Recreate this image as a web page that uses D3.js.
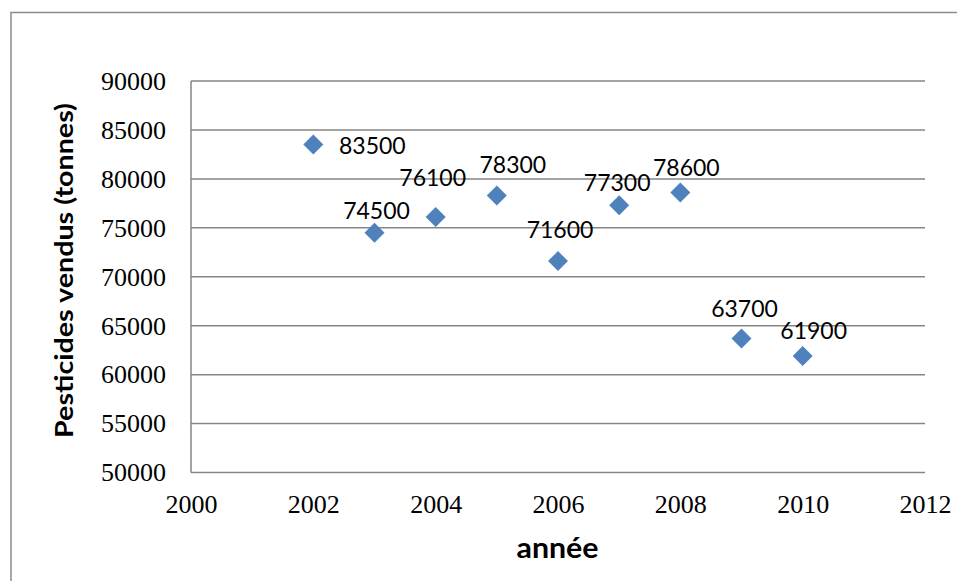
<!DOCTYPE html>
<html>
<head>
<meta charset="utf-8">
<script src="https://cdn.jsdelivr.net/npm/d3@7"></script>
<style>
  html, body { margin: 0; padding: 0; background: #ffffff; }
  svg { display: block; }
</style>
</head>
<body>
<svg id="chart" width="957" height="581"></svg>
<script>
// ---- data ----
const years = [2002, 2003, 2004, 2005, 2006, 2007, 2008, 2009, 2010];
const tonnes = [83500, 74500, 76100, 78300, 71600, 77300, 78600, 63700, 61900];
const xTicks = [2000, 2002, 2004, 2006, 2008, 2010, 2012];
const yTicks = [50000, 55000, 60000, 65000, 70000, 75000, 80000, 85000, 90000];
const yTitle = "Pesticides vendus (tonnes)";
const xTitle = "année";
// label placement (offset of label centre from marker, in px) – styling, not data
const labelDx = [59, 2, -3, 16, 2, -2, 6, 3, 11];
const labelDy = [1, -22, -39, -31, -31, -23, -25, -30, -25];

const svg = d3.select("#chart");
const plot = { left: 191, right: 925, top: 81, bottom: 472.5 };
const gridColor = "#868686";

// outer frame
svg.append("rect")
  .attr("x", 11).attr("y", 12.5)
  .attr("width", 1000).attr("height", 700)
  .attr("fill", "none").attr("stroke", "#8c8c8c").attr("stroke-width", 1.5);

const x = d3.scaleLinear().domain([2000, 2012]).range([plot.left, plot.right]);
const y = d3.scaleLinear().domain([50000, 90000]).range([plot.bottom, plot.top]);

// horizontal gridlines
svg.append("g").selectAll("line").data(yTicks).join("line")
  .attr("x1", plot.left).attr("x2", plot.right)
  .attr("y1", d => y(d)).attr("y2", d => y(d))
  .attr("stroke", gridColor).attr("stroke-width", 1.5);

// y axis line
svg.append("line")
  .attr("x1", plot.left).attr("x2", plot.left)
  .attr("y1", plot.top).attr("y2", plot.bottom)
  .attr("stroke", gridColor).attr("stroke-width", 1.5);

// y axis tick labels
const yAxis = d3.axisLeft(y).tickValues(yTicks).tickSize(0).tickPadding(25)
  .tickFormat(d3.format("d"));
const gy = svg.append("g").attr("transform", `translate(${plot.left},0)`).call(yAxis);
gy.select(".domain").remove();
gy.selectAll("text")
  .attr("font-family", "'Liberation Serif', 'Times New Roman', serif")
  .attr("font-size", 26).attr("fill", "#000");

// x axis tick labels
const xAxis = d3.axisBottom(x).tickValues(xTicks).tickSize(0).tickPadding(22)
  .tickFormat(d3.format("d"));
const gx = svg.append("g").attr("transform", `translate(0,${plot.bottom})`).call(xAxis);
gx.select(".domain").remove();
gx.selectAll("text")
  .attr("font-family", "'Liberation Serif', 'Times New Roman', serif")
  .attr("font-size", 26).attr("fill", "#000");

// markers (diamonds)
const diamond = d3.symbol().type(d3.symbolSquare).size(200);
svg.append("g").selectAll("path").data(years).join("path")
  .attr("d", diamond)
  .attr("transform", (d, i) => `translate(${x(d)},${y(tonnes[i])}) rotate(45)`)
  .attr("fill", "#4F81BD");

// data labels
svg.append("g").selectAll("text").data(years).join("text")
  .attr("x", (d, i) => x(d) + labelDx[i])
  .attr("y", (d, i) => y(tonnes[i]) + labelDy[i] + 8.3)
  .attr("text-anchor", "middle")
  .attr("font-family", "Lato, 'Open Sans', sans-serif")
  .attr("font-size", 23).attr("fill", "#000")
  .text((d, i) => tonnes[i]);

// axis titles
svg.append("text")
  .attr("transform", `translate(73,${270.5}) rotate(-90)`)
  .attr("text-anchor", "middle")
  .attr("font-family", "Lato, 'Open Sans', sans-serif")
  .attr("font-weight", "bold").attr("font-size", 25)
  .attr("textLength", 335).attr("lengthAdjust", "spacingAndGlyphs")
  .text(yTitle);

svg.append("text")
  .attr("x", 557.5).attr("y", 558.3)
  .attr("text-anchor", "middle")
  .attr("font-family", "Lato, 'Open Sans', sans-serif")
  .attr("font-weight", "bold").attr("font-size", 29)
  .attr("textLength", 82).attr("lengthAdjust", "spacingAndGlyphs")
  .text(xTitle);
</script>
</body>
</html>
